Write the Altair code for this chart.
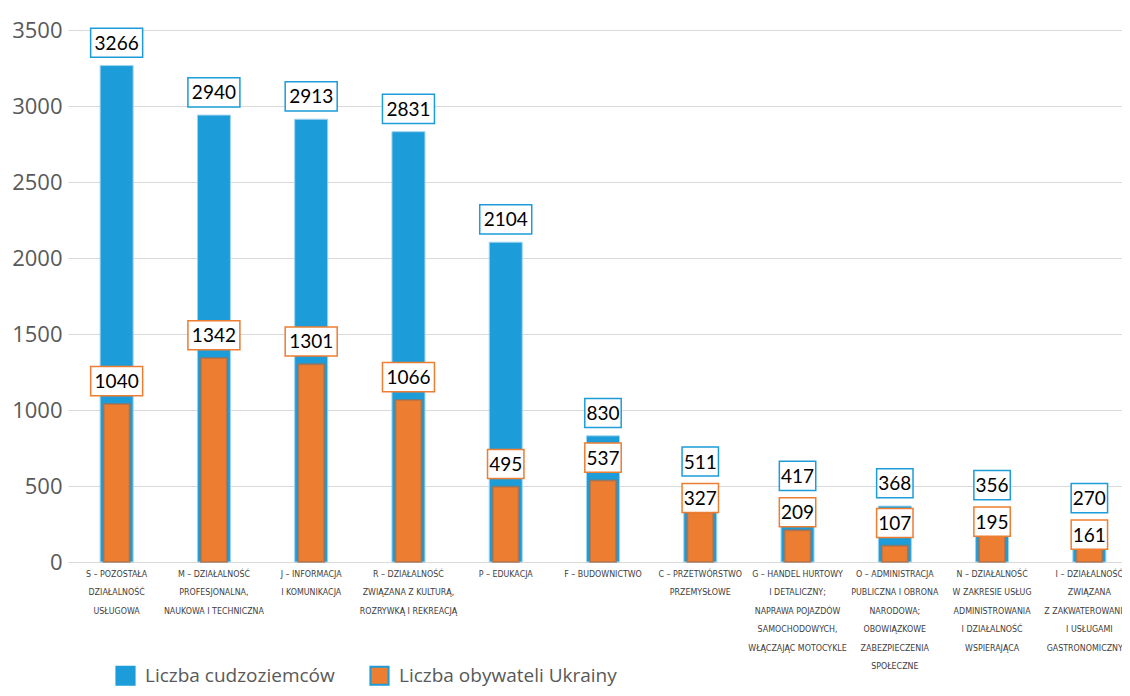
import altair as alt
import pandas as pd

categories = [
    "S – POZOSTAŁA|DZIAŁALNOŚĆ|USŁUGOWA",
    "M – DZIAŁALNOŚĆ|PROFESJONALNA,|NAUKOWA I TECHNICZNA",
    "J – INFORMACJA|I KOMUNIKACJA",
    "R – DZIAŁALNOŚĆ|ZWIĄZANA Z KULTURĄ,|ROZRYWKĄ I REKREACJĄ",
    "P – EDUKACJA",
    "F – BUDOWNICTWO",
    "C – PRZETWÓRSTWO|PRZEMYSŁOWE",
    "G – HANDEL HURTOWY|I DETALICZNY;|NAPRAWA POJAZDÓW|SAMOCHODOWYCH,|WŁĄCZAJĄC MOTOCYKLE",
    "O – ADMINISTRACJA|PUBLICZNA I OBRONA|NARODOWA;|OBOWIĄZKOWE|ZABEZPIECZENIA|SPOŁECZNE",
    "N – DZIAŁALNOŚĆ|W ZAKRESIE USŁUG|ADMINISTROWANIA|I DZIAŁALNOŚĆ|WSPIERAJĄCA",
    "I – DZIAŁALNOŚĆ|ZWIĄZANA|Z ZAKWATEROWANIEM|I USŁUGAMI|GASTRONOMICZNYMI",
]
total = [3266, 2940, 2913, 2831, 2104, 830, 511, 417, 368, 356, 270]
ukraine = [1040, 1342, 1301, 1066, 495, 537, 327, 209, 107, 195, 161]
series = ["Liczba cudzoziemców", "Liczba obywateli Ukrainy"]
y_ticks = [0, 500, 1000, 1500, 2000, 2500, 3000, 3500]

df = pd.DataFrame({"cat": categories, "total": total, "ukr": ukraine})

BLUE = "#1c9cd8"
ORANGE = "#ed7d31"
P4 = "M-1,-0.56H1V0.56H-1Z"
P3 = "M-0.7,-0.56H0.7V0.56H-0.7Z"

x = alt.X(
    "cat:N", sort=None, title=None,
    scale=alt.Scale(paddingInner=0, paddingOuter=0, range=[0, 1070]),
    axis=alt.Axis(
        labelExpr="split(datum.label, '|')", labelAngle=0,
        labelFont="DejaVu Sans Condensed, Roboto Condensed, Roboto", labelFontSize=8.8,
        labelColor="#404040", labelLineHeight=18.5, labelPadding=7,
        labelBaseline="top", labelLimit=0, domain=False, ticks=False,
        labelAlign="center",
    ),
)
yscale = alt.Scale(domain=[0, 3500], nice=False)
y_axis = alt.Axis(
    values=y_ticks, format="d", title=None, labelFont="Open Sans", labelFontSize=22,
    labelColor="#595959", labelPadding=6, grid=True, gridColor="#d9d9d9",
    gridWidth=1.2, domain=False, ticks=False,
)
cscale = alt.Scale(domain=series, range=[BLUE, ORANGE])
legend = alt.Legend(
    title=None, orient="none", legendX=47, legendY=635, direction="horizontal",
    symbolType="square", symbolSize=330, symbolStrokeColor=BLUE,
    symbolStrokeWidth=2, symbolOpacity=1, labelFont="Open Sans",
    labelFontSize=19, labelColor="#595959", labelOffset=9, columnPadding=31,
    padding=0, labelLimit=0,
)

base = alt.Chart(df).transform_calculate(
    s0="'" + series[0] + "'",
    s1="'" + series[1] + "'",
    ly="datum.total + 150",
    ly2="min(datum.ukr + 150, datum.total + 150 - 240)",
    kind="datum.total >= 1000 ? 'w' : 'n'",
    kind2="datum.ukr >= 1000 ? 'w' : 'n'",
)

blue_bars = base.mark_bar(width=33, stroke="#9fd4f0", strokeWidth=1).encode(
    x=x,
    y=alt.Y("total:Q", scale=yscale, axis=y_axis, title=None),
    color=alt.Color("s0:N", scale=cscale, legend=legend),
)
orange_bars = base.mark_bar(width=26, stroke="#a86a48", strokeOpacity=0.6, strokeWidth=2).encode(
    x=x,
    y=alt.Y("ukr:Q", scale=yscale, axis=y_axis, title=None),
    color=alt.Color("s1:N", scale=cscale, legend=legend),
)

box_blue = base.mark_point(filled=True, fill="white", stroke=BLUE, strokeWidth=1.5,
                           opacity=1, size=2704).encode(
    x=x, y=alt.Y("ly:Q", scale=yscale, axis=y_axis, title=None),
    shape=alt.Shape("kind:N", scale=alt.Scale(domain=["n", "w"], range=[P3, P4]), legend=None))
txt_blue = base.mark_text(font="Lato", fontSize=19, color="black", baseline="middle", dy=1).encode(
    x=x, y=alt.Y("ly:Q", scale=yscale, axis=y_axis, title=None), text="total:Q")

box_or = base.mark_point(filled=True, fill="white", stroke=ORANGE, strokeWidth=1.5,
                         opacity=1, size=2704).encode(
    x=x, y=alt.Y("ly2:Q", scale=yscale, axis=y_axis, title=None),
    shape=alt.Shape("kind2:N", scale=alt.Scale(domain=["n", "w"], range=[P3, P4]), legend=None))
txt_or = base.mark_text(font="Lato", fontSize=19, color="black", baseline="middle", dy=1).encode(
    x=x, y=alt.Y("ly2:Q", scale=yscale, axis=y_axis, title=None), text="ukr:Q")

chart = alt.layer(blue_bars, orange_bars, box_blue, txt_blue, box_or, txt_or).properties(
    width=1054, height=532, autosize="none",
    padding={"left": 60, "top": 22, "right": 0, "bottom": 126},
).configure_view(stroke=None)

chart.save("out.html", embed_options={"renderer": "svg", "actions": False})
